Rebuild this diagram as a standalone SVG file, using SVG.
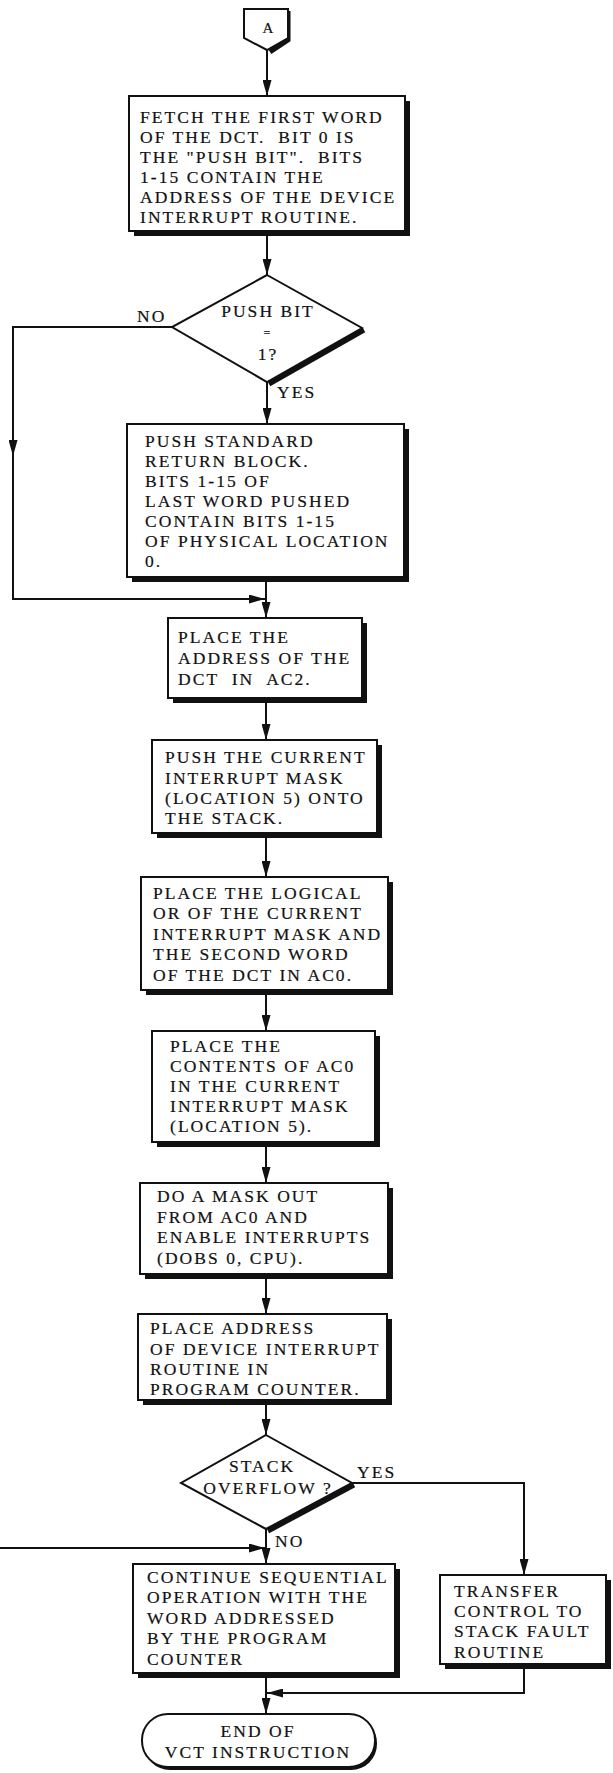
<svg xmlns="http://www.w3.org/2000/svg" width="613" height="1773" viewBox="0 0 613 1773">
<style>
.t{font-family:"Liberation Serif","Times New Roman",serif;font-size:17.5px;letter-spacing:2.05px;fill:#111;stroke:#111;stroke-width:0.2px;white-space:pre}
.c{text-anchor:middle}
.box{fill:#fff;stroke:#111;stroke-width:2}
.sh{fill:#111}
.ln{fill:none;stroke:#111;stroke-width:2}
.dsh{fill:none;stroke:#111;stroke-width:5}
</style>
<defs>
<marker id="ah" viewBox="0 0 16 9" markerWidth="16" markerHeight="9" refX="16" refY="4.5" orient="auto" markerUnits="userSpaceOnUse"><path d="M0,0 L16,4.5 L0,9 z" fill="#111"/></marker>
</defs>
<rect width="613" height="1773" fill="#fff"/>

<g id="connectors">
<path class="ln" d="M267,50 V96" marker-end="url(#ah)"/>
<path class="ln" d="M267,231 V275" marker-end="url(#ah)"/>
<path class="ln" d="M172,327 H13 V456" marker-end="url(#ah)"/>
<path class="ln" d="M13,450 V599 H265" marker-end="url(#ah)"/>
<path class="ln" d="M267,382 V424" marker-end="url(#ah)"/>
<path class="ln" d="M266,577 V618" marker-end="url(#ah)"/>
<path class="ln" d="M266,698 V740" marker-end="url(#ah)"/>
<path class="ln" d="M266,833 V877" marker-end="url(#ah)"/>
<path class="ln" d="M266,990 V1031" marker-end="url(#ah)"/>
<path class="ln" d="M266,1142 V1183" marker-end="url(#ah)"/>
<path class="ln" d="M266,1274 V1314" marker-end="url(#ah)"/>
<path class="ln" d="M266,1400 V1435" marker-end="url(#ah)"/>
<path class="ln" d="M352,1483 H524 V1575" marker-end="url(#ah)"/>
<path class="ln" d="M266,1529 V1564" marker-end="url(#ah)"/>
<path class="ln" d="M0,1548 H265" marker-end="url(#ah)"/>
<path class="ln" d="M524,1664 V1693 H267" marker-end="url(#ah)"/>
<path class="ln" d="M266,1673 V1714" marker-end="url(#ah)"/>
<text class="t" x="137" y="322">NO</text>
<text class="t" x="277" y="398">YES</text>
<text class="t" x="357" y="1478">YES</text>
<text class="t" x="275" y="1547">NO</text>
</g>

<g id="connA">
<path d="M288,11 V40 L270,52" class="dsh" stroke-width="4"/>
<path class="box" d="M244,9 H288 V38 L267,50 L244,38 Z"/>
<text class="t c" x="268" y="33" style="font-size:15px;letter-spacing:0">A</text>
</g>

<g id="n1">
<rect class="sh" x="134" y="101" width="276" height="135"/>
<rect class="box" x="129" y="96" width="276" height="135"/>
<text class="t" x="140" y="123">FETCH THE FIRST WORD</text>
<text class="t" x="140" y="143">OF THE DCT.  BIT 0 IS</text>
<text class="t" x="140" y="163">THE "PUSH BIT".  BITS</text>
<text class="t" x="140" y="183">1-15 CONTAIN THE</text>
<text class="t" x="140" y="203">ADDRESS OF THE DEVICE</text>
<text class="t" x="140" y="223">INTERRUPT ROUTINE.</text>
</g>

<g id="d1">
<path class="dsh" d="M364,330 L269,384"/>
<path class="box" d="M267,275 L362,328 L267,382 L172,327 Z"/>
<text class="t c" x="268" y="317">PUSH BIT</text>
<text class="t c" x="268" y="337" style="font-size:12px">=</text>
<text class="t c" x="268" y="360">1?</text>
</g>

<g id="n2">
<rect class="sh" x="132" y="429" width="277" height="153"/>
<rect class="box" x="127" y="424" width="277" height="153"/>
<text class="t" x="145" y="447">PUSH STANDARD</text>
<text class="t" x="145" y="467">RETURN BLOCK.</text>
<text class="t" x="145" y="487">BITS 1-15 OF</text>
<text class="t" x="145" y="507">LAST WORD PUSHED</text>
<text class="t" x="145" y="527">CONTAIN BITS 1-15</text>
<text class="t" x="145" y="547">OF PHYSICAL LOCATION</text>
<text class="t" x="145" y="567">0.</text>
</g>

<g id="n3">
<rect class="sh" x="173" y="623" width="194" height="80"/>
<rect class="box" x="168" y="618" width="194" height="80"/>
<text class="t" x="178" y="643">PLACE THE</text>
<text class="t" x="178" y="664">ADDRESS OF THE</text>
<text class="t" x="178" y="685">DCT  IN  AC2.</text>
</g>

<g id="n4">
<rect class="sh" x="157" y="745" width="225" height="93"/>
<rect class="box" x="152" y="740" width="225" height="93"/>
<text class="t" x="165" y="763">PUSH THE CURRENT</text>
<text class="t" x="165" y="784">INTERRUPT MASK</text>
<text class="t" x="165" y="804">(LOCATION 5) ONTO</text>
<text class="t" x="165" y="824">THE STACK.</text>
</g>

<g id="n5">
<rect class="sh" x="146" y="882" width="247" height="113"/>
<rect class="box" x="141" y="877" width="247" height="113"/>
<text class="t" x="153" y="899">PLACE THE LOGICAL</text>
<text class="t" x="153" y="919">OR OF THE CURRENT</text>
<text class="t" x="153" y="940">INTERRUPT MASK AND</text>
<text class="t" x="153" y="960">THE SECOND WORD</text>
<text class="t" x="153" y="981">OF THE DCT IN AC0.</text>
</g>

<g id="n6">
<rect class="sh" x="157" y="1036" width="223" height="111"/>
<rect class="box" x="152" y="1031" width="223" height="111"/>
<text class="t" x="170" y="1052">PLACE THE</text>
<text class="t" x="170" y="1072">CONTENTS OF AC0</text>
<text class="t" x="170" y="1092">IN THE CURRENT</text>
<text class="t" x="170" y="1112">INTERRUPT MASK</text>
<text class="t" x="170" y="1132">(LOCATION 5).</text>
</g>

<g id="n7">
<rect class="sh" x="145" y="1188" width="248" height="91"/>
<rect class="box" x="140" y="1183" width="248" height="91"/>
<text class="t" x="157" y="1202">DO A MASK OUT</text>
<text class="t" x="157" y="1223">FROM AC0 AND</text>
<text class="t" x="157" y="1243">ENABLE INTERRUPTS</text>
<text class="t" x="157" y="1264">(DOBS 0, CPU).</text>
</g>

<g id="n8">
<rect class="sh" x="143" y="1319" width="249" height="86"/>
<rect class="box" x="138" y="1314" width="249" height="86"/>
<text class="t" x="150" y="1334">PLACE ADDRESS</text>
<text class="t" x="150" y="1355">OF DEVICE INTERRUPT</text>
<text class="t" x="150" y="1375">ROUTINE IN</text>
<text class="t" x="150" y="1395">PROGRAM COUNTER.</text>
</g>

<g id="d2">
<path class="dsh" d="M354,1485 L268,1531"/>
<path class="box" d="M266,1435 L352,1483 L266,1529 L181,1483 Z"/>
<text class="t c" x="262" y="1472">STACK</text>
<text class="t c" x="268" y="1494">OVERFLOW ?</text>
</g>

<g id="n10">
<rect class="sh" x="138" y="1569" width="262" height="109"/>
<rect class="box" x="133" y="1564" width="262" height="109"/>
<text class="t" x="147" y="1583">CONTINUE SEQUENTIAL</text>
<text class="t" x="147" y="1603">OPERATION WITH THE</text>
<text class="t" x="147" y="1624">WORD ADDRESSED</text>
<text class="t" x="147" y="1644">BY THE PROGRAM</text>
<text class="t" x="147" y="1665">COUNTER</text>
</g>

<g id="n9">
<rect class="sh" x="445" y="1580" width="166" height="89"/>
<rect class="box" x="440" y="1575" width="166" height="89"/>
<text class="t" x="454" y="1597">TRANSFER</text>
<text class="t" x="454" y="1617">CONTROL TO</text>
<text class="t" x="454" y="1637">STACK FAULT</text>
<text class="t" x="454" y="1658">ROUTINE</text>
</g>

<g id="end">
<rect class="sh" x="144" y="1717" width="233" height="53" rx="26"/>
<rect class="box" x="142" y="1714" width="233" height="53" rx="26"/>
<text class="t c" x="258" y="1737">END OF</text>
<text class="t c" x="258" y="1758">VCT INSTRUCTION</text>
</g>
</svg>
